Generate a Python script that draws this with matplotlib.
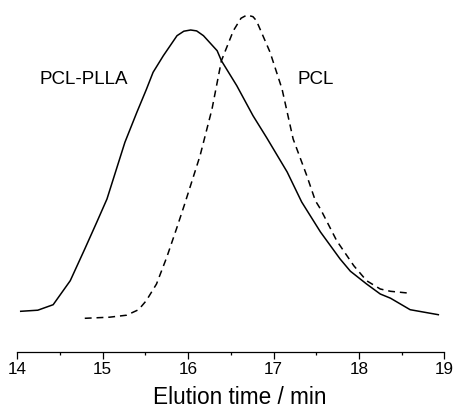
import matplotlib
matplotlib.use("Agg")
import matplotlib.pyplot as plt
from matplotlib.ticker import MultipleLocator

plt.rcParams['font.family'] = ['Liberation Sans', 'DejaVu Sans']

# PCL-PLLA (solid)
pcl_plla_t = [14.04, 14.24, 14.42, 14.62, 14.79, 14.93, 15.05, 15.26, 15.40, 15.51,
              15.59, 15.71, 15.79, 15.87, 15.95, 16.03, 16.10, 16.18, 16.34, 16.39,
              16.57, 16.76, 16.92, 17.16, 17.33, 17.55, 17.78, 17.90, 18.09, 18.25,
              18.37, 18.60, 18.93]
pcl_plla_i = [40.4, 41.5, 47.0, 71.0, 102.7, 129.4, 152.7, 209.4, 239.4, 262.0,
              279.4, 296.0, 306.0, 316.0, 320.5, 321.7, 320.8, 316.0, 301.0, 291.0,
              266.0, 236.0, 214.0, 179.7, 149.7, 119.7, 92.7, 80.5, 67.7, 57.7,
              53.5, 42.0, 37.0]

# PCL (dashed)
pcl_t = [14.79, 15.08, 15.28, 15.42, 15.51, 15.63, 15.75, 15.87, 15.96, 16.14,
         16.28, 16.39, 16.53, 16.62, 16.69, 16.76, 16.80, 16.96, 17.10, 17.23,
         17.39, 17.49, 17.55, 17.74, 17.94, 18.09, 18.25, 18.37, 18.57]
pcl_i = [33.4, 34.5, 36.5, 42.0, 51.0, 67.7, 94.4, 124.4, 147.7, 196.0,
         242.7, 291.0, 321.0, 333.5, 336.7, 335.0, 331.0, 299.4, 262.7, 212.7,
         176.0, 151.0, 142.7, 111.0, 86.0, 71.0, 62.7, 60.4, 58.7]

x_ticks = [14, 15, 16, 17, 18, 19]

fig = plt.figure(figsize=(4.55, 4.1), dpi=100)
ax = fig.add_axes([17.3 / 455, (410 - 352.7) / 410, (444.3 - 17.3) / 455, 352.7 / 410])

ax.plot(pcl_plla_t, pcl_plla_i, color='black', lw=1.1, ls='-')
ax.plot(pcl_t, pcl_i, color='black', lw=1.1, ls=(0, (4.5, 3.2)))

ax.set_xlim(14, 19)
ax.set_ylim(0, 352.7)
ax.set_xticks(x_ticks)
ax.set_xticklabels([str(t) for t in x_ticks])
ax.xaxis.set_minor_locator(MultipleLocator(0.5))
ax.tick_params(axis='x', which='major', direction='out', length=4.8, width=0.9,
               labelsize=12.3, pad=2)
ax.tick_params(axis='x', which='minor', direction='out', length=2.4, width=0.9)
ax.set_yticks([])
for s in ['left', 'right', 'top']:
    ax.spines[s].set_visible(False)
ax.spines['bottom'].set_linewidth(0.9)
ax.set_xlabel('Elution time / min', fontsize=16.3, va='baseline')
ax.xaxis.set_label_coords(0.5215, -0.1465)

ax.text(83.8 / 455, 1 - 79.3 / 410, 'PCL-PLLA', transform=fig.transFigure,
        ha='center', va='center', fontsize=13.5)
ax.text(316 / 455, 1 - 79.3 / 410, 'PCL', transform=fig.transFigure,
        ha='center', va='center', fontsize=13.5)

fig.savefig('out.png', dpi=100)
